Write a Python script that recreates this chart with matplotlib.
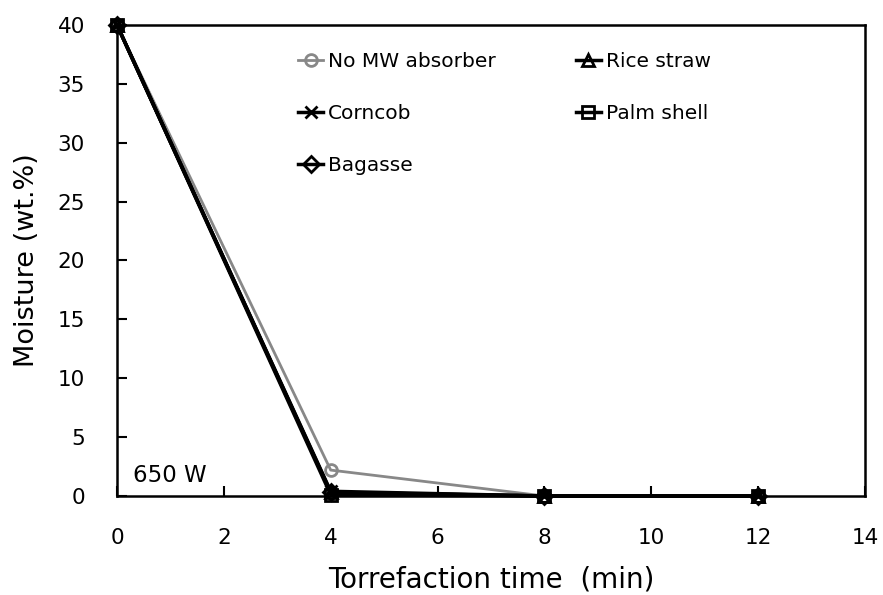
import matplotlib
matplotlib.use("Agg")
from matplotlib import pyplot as plt

plt.rcParams['font.family'] = ['DejaVu Sans']

# torrefaction time (min) and moisture (wt.%) at 650 W
time = [0, 4, 8, 12]
no_mw = [40, 2.2, 0, 0]
rice_straw = [40, 0.3, 0, 0]
corncob = [40, 0.4, 0, 0]
palm_shell = [40, 0.1, 0, 0]
bagasse = [40, 0.3, 0, 0]

fig = plt.figure(figsize=(8.83, 5.95), dpi=100)
ax = fig.add_axes([0.1325, 0.1664, 0.8471, 0.7916])

# hollow markers, as in the original
common = dict(markersize=8.5, markerfacecolor='none', markeredgewidth=2, clip_on=False)
l1, = ax.plot(time, no_mw, color='#888888', marker='o', linewidth=2, label='No MW absorber', **common)
l2, = ax.plot(time, rice_straw, color='black', marker='^', linewidth=2.5, label='Rice straw', **common)
l3, = ax.plot(time, corncob, color='black', marker='x', linewidth=2.5, label='Corncob', **common)
l4, = ax.plot(time, palm_shell, color='black', marker='s', linewidth=2.5, label='Palm shell', **common)
l5, = ax.plot(time, bagasse, color='black', marker='D', linewidth=2.5, label='Bagasse', **common)

ax.set_xlim(0, 14)
ax.set_ylim(0, 40)
ax.set_xticks(range(0, 15, 2))
ax.set_yticks(range(0, 41, 5))
ax.tick_params(direction='in', length=7, width=1.5, labelsize=15.5, pad=23)
for s in ax.spines.values():
    s.set_linewidth(1.8)

ax.set_xlabel('Torrefaction time  (min)', fontsize=20, va='baseline')
ax.set_ylabel('Moisture (wt.%)', fontsize=19.5)
ax.xaxis.set_label_coords(0.5, -0.195)
ax.yaxis.set_label_coords(-0.103, 0.5)
ax.text(0.3, 1.2, '650 W', fontsize=16.5)

# row-wise order: fill columns so rows read No MW / Rice straw, Corncob / Palm shell, Bagasse
ax.legend([l1, l3, l5, l2, l4], ['No MW absorber', 'Corncob', 'Bagasse', 'Rice straw', 'Palm shell'],
          ncol=2, frameon=False, fontsize=14.5, loc='upper left',
          bbox_to_anchor=(0.242, 0.942), borderaxespad=0, borderpad=0,
          handlelength=1.25, handletextpad=0.25, labelspacing=1.62, columnspacing=3.95)

plt.savefig('out.png', dpi=100)
